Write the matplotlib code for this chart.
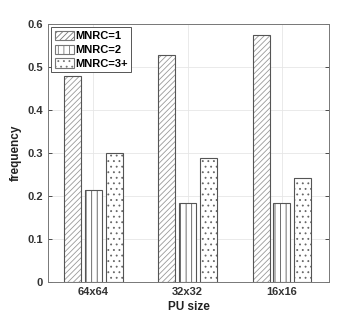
import matplotlib
matplotlib.use("Agg")
import matplotlib.pyplot as plt
import matplotlib.patches as mpatches
import numpy as np

categories = ["64x64", "32x32", "16x16"]
series_names = ["MNRC=1", "MNRC=2", "MNRC=3+"]
mnrc1 = [0.480, 0.528, 0.575]
mnrc2 = [0.215, 0.185, 0.185]
mnrc3 = [0.300, 0.288, 0.241]
yticks = [0, 0.1, 0.2, 0.3, 0.4, 0.5, 0.6]

plt.rcParams['font.family'] = ['Liberation Sans', 'DejaVu Sans']
plt.rcParams['hatch.linewidth'] = 0.6

fig = plt.figure(figsize=(3.64, 3.17), dpi=100)
ax = fig.add_axes([0.132, 0.110, 0.772, 0.814])

x = np.arange(1, len(categories) + 1)
w = 0.18
off = 0.22
hatches = ['//////', '|||', '...']
hcols = ['#999999', '#555555', '#666666']
handles = []
for i, (vals, name, h, hc) in enumerate(zip([mnrc1, mnrc2, mnrc3], series_names, hatches, hcols)):
    ax.bar(x + (i - 1) * off, vals, width=w, facecolor='white', edgecolor=hc,
           hatch=h, linewidth=0, zorder=3)
    ax.bar(x + (i - 1) * off, vals, width=w, facecolor='none', edgecolor='#555555',
           linewidth=0.8, zorder=4)
    handles.append(mpatches.Patch(facecolor='white', edgecolor=hc, hatch=h, label=name,
                                  linewidth=0.8))

ax.set_xlim(0.52, 3.5)
ax.set_ylim(0, 0.6)
ax.set_xticks(x)
ax.set_xticklabels(categories, fontsize=8, fontweight='bold')
ax.set_yticks(yticks)
ax.set_yticklabels([f"{v:g}" for v in yticks], fontsize=8, fontweight='bold')
ax.tick_params(direction='in', length=3, top=False, right=True, colors='#333333', width=0.6)
ax.grid(True, color='#e6e6e6', linewidth=0.6, zorder=0)
ax.set_axisbelow(True)
for s in ax.spines.values():
    s.set_color('#777777')
    s.set_linewidth(0.7)
ax.set_xlabel("PU size", fontsize=8.5, fontweight='bold', color='#222222', labelpad=3)
ax.set_ylabel("frequency", fontsize=8.5, fontweight='bold', color='#222222', labelpad=4)

leg = ax.legend(handles=handles, loc='upper left', prop={'weight': 'bold', 'size': 8},
                frameon=True, fancybox=False, edgecolor='#555555', handlelength=1.7,
                handleheight=0.9, handletextpad=0.15, borderaxespad=0.3, labelspacing=0.3,
                borderpad=0.3, framealpha=1)
leg.get_frame().set_linewidth(0.7)
for p in leg.get_patches():
    p.set_edgecolor('#777777')

fig.savefig("out.png", dpi=100)
